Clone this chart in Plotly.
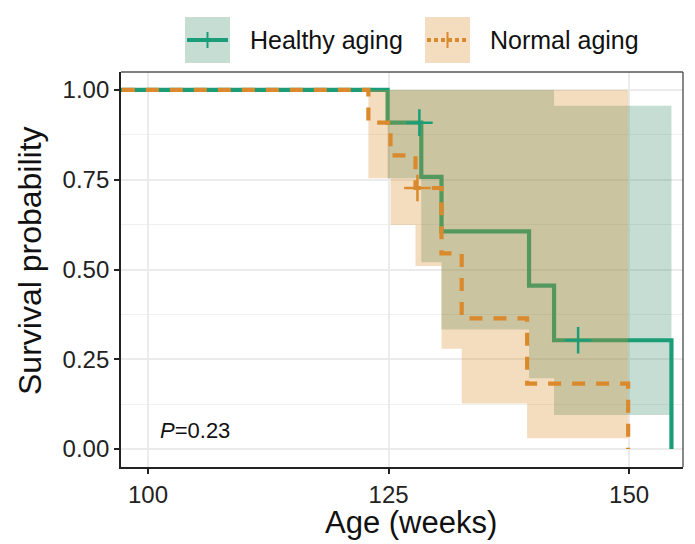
import plotly.graph_objects as go

# ---------------- data ----------------
start_time = 0.0
healthy_times = [124.9, 128.4, 130.5, 139.6, 142.2, 154.4]
healthy_surv = [0.909, 0.758, 0.606, 0.455, 0.303, 0.0]
healthy_lower = [0.754, 0.52, 0.333, 0.197, 0.095, None]
healthy_upper = [1.0, 1.0, 1.0, 1.0, 0.956, None]
healthy_censor = [128.2, 144.7]

normal_times = [122.9, 125.2, 127.8, 130.5, 132.6, 139.4, 149.9]
normal_surv = [0.909, 0.818, 0.727, 0.545, 0.364, 0.182, 0.0]
normal_lower = [0.754, 0.624, 0.51, 0.279, 0.127, 0.030, None]
normal_upper = [1.0, 1.0, 1.0, 1.0, 1.0, 1.0, None]
normal_censor = [128.0]

group_names = ["Healthy aging", "Normal aging"]
x_ticks = [100, 125, 150]
y_ticks = [0.0, 0.25, 0.5, 0.75, 1.0]
y_tick_labels = ["0.00", "0.25", "0.50", "0.75", "1.00"]
y_minor = [0.125, 0.375, 0.625, 0.875]
x_title = "Age (weeks)"
y_title = "Survival probability"
p_text = "<i>P</i>=0.23"
p_pos = (101.0, 0.053)

GREEN = "#1B9E77"
ORANGE = "#DA8A2C"
GREEN_FILL = "rgba(62,142,108,0.30)"
ORANGE_FILL = "rgba(218,138,44,0.30)"
FONT = "Liberation Sans, Arial, sans-serif"


def step_value(times, surv, t):
    v = 1.0
    for ti, si in zip(times, surv):
        if ti <= t:
            v = si
    return v


def band_polygon(times, lower, upper):
    xs, ys = [], []
    idx = [i for i in range(len(times) - 1) if lower[i] is not None]
    for i in idx:
        xs += [times[i], times[i + 1]]
        ys += [upper[i], upper[i]]
    for i in reversed(idx):
        xs += [times[i + 1], times[i]]
        ys += [lower[i], lower[i]]
    return xs, ys


fig = go.Figure()

# healthy ribbon + line
bx, by = band_polygon(healthy_times, healthy_lower, healthy_upper)
fig.add_trace(go.Scatter(x=bx, y=by, fill="toself", fillcolor=GREEN_FILL,
                         line=dict(width=0), mode="lines", hoverinfo="skip"))
fig.add_trace(go.Scatter(x=[start_time] + healthy_times, y=[1.0] + healthy_surv,
                         mode="lines", line=dict(color=GREEN, width=4.2, shape="hv"),
                         name=group_names[0]))
# normal ribbon + line
bx, by = band_polygon(normal_times, normal_lower, normal_upper)
fig.add_trace(go.Scatter(x=bx, y=by, fill="toself", fillcolor=ORANGE_FILL,
                         line=dict(width=0), mode="lines", hoverinfo="skip"))
fig.add_trace(go.Scatter(x=[start_time] + normal_times, y=[1.0] + normal_surv,
                         mode="lines",
                         line=dict(color=ORANGE, width=4.2, shape="hv", dash="13px,11px"),
                         name=group_names[1]))
# censor marks
fig.add_trace(go.Scatter(x=healthy_censor,
                         y=[step_value(healthy_times, healthy_surv, t) for t in healthy_censor],
                         mode="markers",
                         marker=dict(symbol="cross-thin", size=19, line=dict(color=GREEN, width=2.5))))
fig.add_trace(go.Scatter(x=normal_censor,
                         y=[step_value(normal_times, normal_surv, t) for t in normal_censor],
                         mode="markers",
                         marker=dict(symbol="cross-thin", size=19, line=dict(color=ORANGE, width=2.5))))

# layout geometry (pixels)
L, T, W, H = 121, 72, 562, 395


def px_x(p):
    return (p - L) / W


def px_y(p):
    return (T + H - p) / H


fig.update_layout(
    width=695, height=544,
    margin=dict(l=L, r=695 - L - W, t=T, b=544 - T - H),
    paper_bgcolor="white", plot_bgcolor="white",
    showlegend=False,
    font=dict(family=FONT, color="#222222"),
    xaxis=dict(range=[97.19, 155.6], tickvals=x_ticks, ticks="outside", ticklen=5,
               tickwidth=1.5, tickcolor="#222222", showline=True, linecolor="#222222",
               linewidth=1.8, showgrid=True, gridcolor="#EBEBEB", gridwidth=1.5,
               zeroline=False, tickfont=dict(size=24, color="#222222")),
    yaxis=dict(range=[-0.05, 1.05], tickvals=y_ticks, ticktext=y_tick_labels,
               ticks="outside", ticklen=5, tickwidth=1.5, tickcolor="#222222",
               showline=True, linecolor="#222222", linewidth=1.8,
               showgrid=True, gridcolor="#EBEBEB", gridwidth=1.5, zeroline=False,
               minor=dict(tickvals=y_minor, showgrid=True, gridcolor="#F0F0F0", gridwidth=1.2),
               tickfont=dict(size=24, color="#222222")),
)

# axis titles
fig.add_annotation(xref="paper", yref="paper", x=px_x(411), y=px_y(522), text=x_title,
                   showarrow=False, xanchor="center", yanchor="middle",
                   font=dict(size=31, color="#111111", family=FONT))
fig.add_annotation(xref="paper", yref="paper", x=px_x(30), y=px_y(261), text=y_title,
                   showarrow=False, xanchor="center", yanchor="middle", textangle=-90,
                   font=dict(size=32, color="#111111", family=FONT))

shapes = []
# top and right panel border
shapes.append(dict(type="line", xref="paper", yref="paper", x0=0, x1=1, y0=1, y1=1,
                   line=dict(color="#555555", width=1.4)))
shapes.append(dict(type="line", xref="paper", yref="paper", x0=1, x1=1, y0=0, y1=1,
                   line=dict(color="#555555", width=1.4)))

# custom legend
legend_items = [
    (group_names[0], GREEN, GREEN_FILL, "solid", 185, 248),
    (group_names[1], ORANGE, ORANGE_FILL, "4px,3px", 425, 488),
]
for name, col, fill, dash, bx0, tx in legend_items:
    shapes.append(dict(type="rect", xref="paper", yref="paper",
                       x0=px_x(bx0), x1=px_x(bx0 + 45), y0=px_y(63), y1=px_y(17),
                       fillcolor=fill, line=dict(width=0)))
    shapes.append(dict(type="line", xref="paper", yref="paper",
                       x0=px_x(bx0 + 2), x1=px_x(bx0 + 43), y0=px_y(40), y1=px_y(40),
                       line=dict(color=col, width=4, dash=dash)))
    shapes.append(dict(type="line", xref="paper", yref="paper",
                       x0=px_x(bx0 + 22.5), x1=px_x(bx0 + 22.5), y0=px_y(32), y1=px_y(48),
                       line=dict(color=col, width=2)))
    fig.add_annotation(xref="paper", yref="paper", x=px_x(tx), y=px_y(40),
                       text=name, showarrow=False, xanchor="left", yanchor="middle",
                       font=dict(size=25, color="#111111", family=FONT))

fig.update_layout(shapes=shapes)

fig.add_annotation(x=p_pos[0], y=p_pos[1], xref="x", yref="y", text=p_text,
                   showarrow=False, xanchor="left", yanchor="middle",
                   font=dict(size=22, color="#111111", family=FONT))

fig.write_html("out.html")
